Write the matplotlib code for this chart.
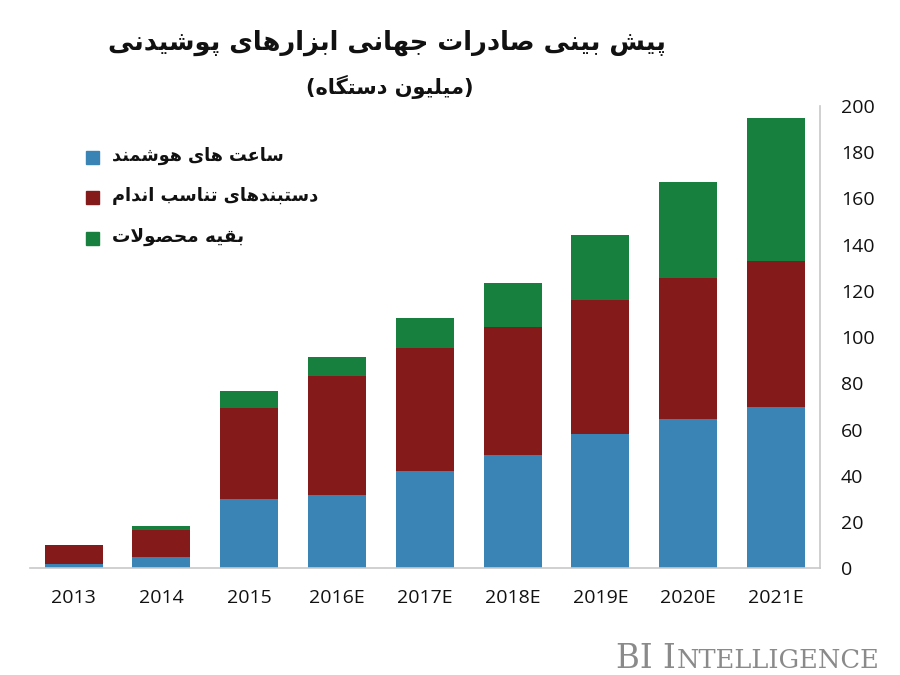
import matplotlib
matplotlib.use("Agg")
import matplotlib.pyplot as plt
import numpy as np

# data (million units)
years = ["2013", "2014", "2015", "2016E", "2017E", "2018E", "2019E", "2020E", "2021E"]
smartwatch = [1.9, 5.0, 30.0, 31.8, 41.9, 48.9, 57.9, 64.8, 70.0]
fitness_band = [8.0, 11.6, 39.5, 51.2, 53.4, 55.6, 58.1, 60.8, 63.0]
other = [0.0, 1.6, 7.2, 8.6, 12.8, 19.1, 28.1, 41.4, 61.7]

title_txt = "پیش بینی صادرات جهانی ابزارهای پوشیدنی"
subtitle_txt = "(میلیون دستگاه)"
legend_txt = ["ساعت های هوشمند", "دستبندهای تناسب اندام", "بقیه محصولات"]

colors = ["#3a84b5", "#841b1a", "#18803f"]

# --- small arabic/persian shaper: presentation forms + visual order ---
# char: (isolated, final, initial, medial); two entries = right-joining only
FORMS = {
    "ا": ("\uFE8D", "\uFE8E"),
    "ب": ("\uFE8F", "\uFE90", "\uFE91", "\uFE92"),
    "پ": ("\uFB56", "\uFB57", "\uFB58", "\uFB59"),
    "ت": ("\uFE95", "\uFE96", "\uFE97", "\uFE98"),
    "ج": ("\uFE9D", "\uFE9E", "\uFE9F", "\uFEA0"),
    "ح": ("\uFEA1", "\uFEA2", "\uFEA3", "\uFEA4"),
    "د": ("\uFEA9", "\uFEAA"),
    "ر": ("\uFEAD", "\uFEAE"),
    "ز": ("\uFEAF", "\uFEB0"),
    "س": ("\uFEB1", "\uFEB2", "\uFEB3", "\uFEB4"),
    "ش": ("\uFEB5", "\uFEB6", "\uFEB7", "\uFEB8"),
    "ص": ("\uFEB9", "\uFEBA", "\uFEBB", "\uFEBC"),
    "ع": ("\uFEC9", "\uFECA", "\uFECB", "\uFECC"),
    "ق": ("\uFED5", "\uFED6", "\uFED7", "\uFED8"),
    "گ": ("\uFB92", "\uFB93", "\uFB94", "\uFB95"),
    "ل": ("\uFEDD", "\uFEDE", "\uFEDF", "\uFEE0"),
    "م": ("\uFEE1", "\uFEE2", "\uFEE3", "\uFEE4"),
    "ن": ("\uFEE5", "\uFEE6", "\uFEE7", "\uFEE8"),
    "ه": ("\uFEE9", "\uFEEA", "\uFEEB", "\uFEEC"),
    "و": ("\uFEED", "\uFEEE"),
    "ی": ("\uFBFC", "\uFBFD", "\uFBFE", "\uFBFF"),
}
LAM_ALEF = ("\uFEFB", "\uFEFC")
MIRROR = {"(": ")", ")": "("}


def shape(s):
    out = []
    i = 0
    n = len(s)
    while i < n:
        c = s[i]
        if c not in FORMS:
            out.append(MIRROR.get(c, c))
            i += 1
            continue
        prev = s[i - 1] if i > 0 else ""
        joins_prev = prev in FORMS and len(FORMS[prev]) == 4
        if c == "ل" and i + 1 < n and s[i + 1] == "ا":
            out.append(LAM_ALEF[1] if joins_prev else LAM_ALEF[0])
            i += 2
            continue
        f = FORMS[c]
        nxt = s[i + 1] if i + 1 < n else ""
        joins_next = len(f) == 4 and nxt in FORMS
        if joins_prev and joins_next:
            g = f[3]
        elif joins_prev:
            g = f[1]
        elif joins_next:
            g = f[2]
        else:
            g = f[0]
        out.append(g)
        i += 1
    return "".join(out[::-1])


plt.rcParams["font.family"] = ["DejaVu Sans"]

fig = plt.figure(figsize=(9, 6.75), dpi=100)
ax = fig.add_axes([0.033, 0.158, 0.878, 0.685])

x = np.arange(len(years))
b1 = np.array(smartwatch)
b2 = b1 + np.array(fitness_band)
w = 0.66
ax.bar(x, smartwatch, w, color=colors[0])
ax.bar(x, fitness_band, w, bottom=b1, color=colors[1])
ax.bar(x, other, w, bottom=b2, color=colors[2])

ax.set_xlim(-0.5, 8.5)
ax.set_ylim(0, 200)
ax.set_yticks(range(0, 201, 20))
ax.set_xticks(x)
ax.set_xticklabels(years)
ax.yaxis.tick_right()
ax.tick_params(axis="both", length=0, labelsize=14, labelcolor="#111111")
ax.tick_params(axis="x", pad=15)
ax.tick_params(axis="y", pad=15)
for lab in ax.get_xticklabels() + ax.get_yticklabels():
    lab.set_fontfamily(["Open Sans", "DejaVu Sans"])

for sp in ["left", "top"]:
    ax.spines[sp].set_visible(False)
for sp in ["bottom", "right"]:
    ax.spines[sp].set_color("#c8c8c8")
    ax.spines[sp].set_linewidth(1.2)

# titles
fig.text(0.43, 0.937, shape(title_txt), ha="center", va="center",
         fontsize=18.5, fontweight="bold", color="#111111")
fig.text(0.433, 0.871, shape(subtitle_txt), ha="center", va="center",
         fontsize=15, fontweight="bold", color="#111111")

# legend drawn by hand, squares on the left
leg_y = [0.767, 0.708, 0.647]
leg_size = [12.7, 12.8, 13.2]
for yy, txt, col, fs in zip(leg_y, legend_txt, colors, leg_size):
    fig.patches.append(plt.Rectangle((0.095, yy - 0.010), 0.0145, 0.0195,
                                     transform=fig.transFigure, color=col))
    fig.text(0.125, yy + 0.002, shape(txt), ha="left", va="center",
             fontsize=fs, fontweight="bold", color="#111111")

# logo, fake small caps: second piece placed right after the first
t1 = fig.text(0.685, 0.011, "BI I", ha="left", va="baseline",
              fontsize=23.5, family="DejaVu Serif", color="#8a8a8a")
fig.canvas.draw()
bb = t1.get_window_extent()
fig.text(bb.x1 / fig.bbox.width + 0.001, 0.011, "NTELLIGENCE", ha="left",
         va="baseline", fontsize=18.5, family="DejaVu Serif", color="#8a8a8a")

fig.savefig("out.png", dpi=100)
